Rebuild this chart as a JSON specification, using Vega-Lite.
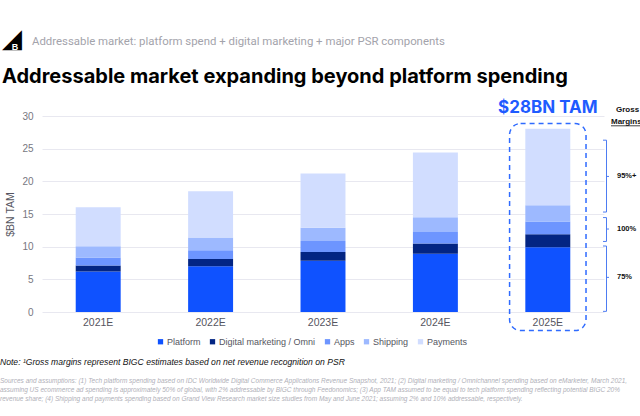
{
  "$schema": "https://vega.github.io/schema/vega-lite/v6.json",
  "width": 562,
  "height": 196,
  "autosize": {"type": "none"},
  "padding": {"left": 42, "top": 116, "right": 36, "bottom": 104},
  "background": "white",
  "config": {
    "view": {"stroke": null},
    "font": "Liberation Sans",
    "axisY": {"values": [0, 5, 10, 15, 20, 25, 30], "tickCount": 7, "domain": false, "ticks": false, "labelPadding": 9, "labelFontSize": 10, "labelColor": "#77777f", "gridColor": "#e8e8f0", "titleFontSize": 10.5, "titleFontWeight": "normal", "titleColor": "#555560", "titlePadding": 6},
    "axisX": {"labelAngle": 0, "domain": false, "ticks": false, "grid": false, "labelPadding": 5, "labelFontSize": 10.5, "labelColor": "#555560"}
  },
  "datasets": {
    "tam": [
      {"year": "2021E", "component": "Platform", "value": 6.2},
      {"year": "2021E", "component": "Digital marketing / Omni", "value": 0.9},
      {"year": "2021E", "component": "Apps", "value": 1.25},
      {"year": "2021E", "component": "Shipping", "value": 1.7},
      {"year": "2021E", "component": "Payments", "value": 6.0},
      {"year": "2022E", "component": "Platform", "value": 7.0},
      {"year": "2022E", "component": "Digital marketing / Omni", "value": 1.1},
      {"year": "2022E", "component": "Apps", "value": 1.35},
      {"year": "2022E", "component": "Shipping", "value": 1.95},
      {"year": "2022E", "component": "Payments", "value": 7.1},
      {"year": "2023E", "component": "Platform", "value": 7.85},
      {"year": "2023E", "component": "Digital marketing / Omni", "value": 1.35},
      {"year": "2023E", "component": "Apps", "value": 1.65},
      {"year": "2023E", "component": "Shipping", "value": 2.05},
      {"year": "2023E", "component": "Payments", "value": 8.3},
      {"year": "2024E", "component": "Platform", "value": 8.9},
      {"year": "2024E", "component": "Digital marketing / Omni", "value": 1.6},
      {"year": "2024E", "component": "Apps", "value": 1.75},
      {"year": "2024E", "component": "Shipping", "value": 2.25},
      {"year": "2024E", "component": "Payments", "value": 9.9},
      {"year": "2025E", "component": "Platform", "value": 9.9},
      {"year": "2025E", "component": "Digital marketing / Omni", "value": 2.0},
      {"year": "2025E", "component": "Apps", "value": 1.95},
      {"year": "2025E", "component": "Shipping", "value": 2.5},
      {"year": "2025E", "component": "Payments", "value": 11.7}
    ],
    "braces": [
      {"lo": 0.1, "mid": 5.3, "hi": 10.1, "label": "75%"},
      {"lo": 10.8, "mid": 12.7, "hi": 14.45, "label": "100%"},
      {"lo": 15.3, "mid": 20.75, "hi": 26.3, "label": "95%+"}
    ],
    "one": [{"label": "$28BN TAM"}],
    "header": [{"t": "Addressable market: platform spend + digital marketing + major PSR components"}],
    "headline": [{"t": "Addressable market expanding beyond platform spending"}],
    "note": [{"t": "Note: \u00b9Gross margins represent BIGC estimates based on net revenue recognition on PSR"}],
    "sources": [{"t": [
      "Sources and assumptions: (1) Tech platform spending based on IDC Worldwide Digital Commerce Applications Revenue Snapshot, 2021; (2) Digital marketing / Omnichannel spending based on eMarketer, March 2021,",
      "assuming US ecommerce ad spending is approximately 50% of global, with 2% addressable by BIGC through Feedonomics; (3) App TAM assumed to be equal to tech platform spending reflecting potential BIGC 20%",
      "revenue share; (4) Shipping and payments spending based on Grand View Research market size studies from May and June 2021; assuming 2% and 10% addressable, respectively."
    ]}]
  },
  "layer": [
    {
      "data": {"name": "tam"},
      "transform": [
        {"calculate": "indexof(['Platform','Digital marketing / Omni','Apps','Shipping','Payments'], datum.component)", "as": "stackRank"}
      ],
      "mark": {"type": "bar", "width": {"band": 0.4}},
      "encoding": {
        "x": {
          "field": "year", "type": "nominal", "title": null,
          "scale": {"paddingInner": 0, "paddingOuter": 0}
        },
        "y": {
          "field": "value", "type": "quantitative", "stack": "zero", "title": "$BN TAM",
          "scale": {"domain": [0, 30], "nice": false},
          "axis": {"values": [0, 5, 10, 15, 20, 25, 30], "tickCount": 7}
        },
        "order": {"field": "stackRank", "type": "quantitative", "sort": "ascending"},
        "color": {
          "field": "component", "type": "nominal",
          "scale": {"domain": ["Platform", "Digital marketing / Omni", "Apps", "Shipping", "Payments"], "range": ["#0f52ff", "#032583", "#6d95ff", "#9db9ff", "#d1ddff"]},
          "legend": {"title": null, "orient": "none", "legendX": 114, "legendY": 221, "direction": "horizontal", "symbolType": "square", "symbolSize": 28, "labelFontSize": 9, "labelColor": "#555560", "labelOffset": 2, "columnPadding": 7, "padding": 0}
        }
      }
    },
    {
      "data": {"name": "one"},
      "mark": {"type": "bar", "width": {"band": 0.68}, "fill": null, "fillOpacity": 0, "stroke": "#2f6bff", "strokeWidth": 1.5, "strokeDash": [5, 4], "cornerRadius": 11},
      "encoding": {
        "x": {"datum": "2025E"},
        "y": {"datum": 28.85},
        "y2": {"datum": -2.85}
      }
    },
    {
      "data": {"name": "one"},
      "mark": {"type": "text", "fontSize": 17, "fontWeight": "bold", "font": "Inter", "color": "#1f5bff", "baseline": "middle", "align": "center"},
      "encoding": {
        "x": {"datum": "2025E", "bandPosition": 0.5},
        "y": {"datum": 31.3},
        "text": {"field": "label"}
      }
    },
    {
      "data": {"name": "one"},
      "mark": {"type": "text", "fontSize": 8, "fontWeight": "bold", "color": "#111111", "baseline": "middle", "align": "left", "dx": 12},
      "encoding": {
        "x": {"datum": "2025E", "bandPosition": 1},
        "y": {"datum": 30.9},
        "text": {"value": "Gross"}
      }
    },
    {
      "data": {"name": "one"},
      "mark": {"type": "text", "fontSize": 8, "fontWeight": "bold", "color": "#111111", "baseline": "middle", "align": "left", "dx": 7},
      "encoding": {
        "x": {"datum": "2025E", "bandPosition": 1},
        "y": {"datum": 29.15},
        "text": {"value": "Margins"}
      }
    },
    {
      "data": {"name": "one"},
      "mark": {"type": "rule", "color": "#111111", "strokeWidth": 0.8, "xOffset": 7, "x2Offset": 40},
      "encoding": {
        "x": {"datum": "2025E", "bandPosition": 1},
        "x2": {"datum": "2025E", "bandPosition": 1},
        "y": {"datum": 28.5}
      }
    },
    {
      "data": {"name": "braces"},
      "mark": {"type": "rule", "color": "#4d7cf2", "strokeWidth": 1, "xOffset": 2.5},
      "encoding": {
        "x": {"datum": "2025E", "bandPosition": 1},
        "y": {"field": "lo", "type": "quantitative"},
        "y2": {"field": "hi"}
      }
    },
    {
      "data": {"name": "braces"},
      "mark": {"type": "rule", "color": "#4d7cf2", "strokeWidth": 1, "xOffset": -1, "x2Offset": 2.5},
      "encoding": {
        "x": {"datum": "2025E", "bandPosition": 1},
        "x2": {"datum": "2025E", "bandPosition": 1},
        "y": {"field": "lo", "type": "quantitative"}
      }
    },
    {
      "data": {"name": "braces"},
      "mark": {"type": "rule", "color": "#4d7cf2", "strokeWidth": 1, "xOffset": -1, "x2Offset": 2.5},
      "encoding": {
        "x": {"datum": "2025E", "bandPosition": 1},
        "x2": {"datum": "2025E", "bandPosition": 1},
        "y": {"field": "hi", "type": "quantitative"}
      }
    },
    {
      "data": {"name": "braces"},
      "mark": {"type": "rule", "color": "#4d7cf2", "strokeWidth": 1, "xOffset": 2.5, "x2Offset": 5},
      "encoding": {
        "x": {"datum": "2025E", "bandPosition": 1},
        "x2": {"datum": "2025E", "bandPosition": 1},
        "y": {"field": "mid", "type": "quantitative"}
      }
    },
    {
      "data": {"name": "braces"},
      "mark": {"type": "text", "fontSize": 7.5, "fontWeight": "bold", "color": "#111111", "align": "left", "baseline": "middle", "dx": 13},
      "encoding": {
        "x": {"datum": "2025E", "bandPosition": 1},
        "y": {"field": "mid", "type": "quantitative"},
        "text": {"field": "label"}
      }
    },
    {
      "data": {"name": "one"},
      "mark": {"type": "text", "font": "DejaVu Sans", "fontSize": 26, "color": "#000000", "align": "center", "baseline": "middle", "dx": -30},
      "encoding": {
        "x": {"datum": "2021E", "bandPosition": 0},
        "y": {"datum": 41.8},
        "text": {"value": "\u25e2"}
      }
    },
    {
      "data": {"name": "one"},
      "mark": {"type": "text", "font": "Liberation Sans", "fontSize": 9, "fontWeight": "bold", "color": "#ffffff", "align": "center", "baseline": "middle", "dx": -27},
      "encoding": {
        "x": {"datum": "2021E", "bandPosition": 0},
        "y": {"datum": 40.6},
        "text": {"value": "B"}
      }
    },
    {
      "data": {"name": "header"},
      "mark": {"type": "text", "font": "Roboto", "fontSize": 11.4, "color": "#a3a3ab", "align": "left", "baseline": "middle", "dx": -10},
      "encoding": {
        "x": {"datum": "2021E", "bandPosition": 0},
        "y": {"datum": 41.3},
        "text": {"field": "t"}
      }
    },
    {
      "data": {"name": "headline"},
      "mark": {"type": "text", "font": "Inter", "fontSize": 20, "fontWeight": "bold", "color": "#000000", "align": "left", "baseline": "alphabetic", "dx": -40},
      "encoding": {
        "x": {"datum": "2021E", "bandPosition": 0},
        "y": {"datum": 35.0},
        "text": {"field": "t"}
      }
    },
    {
      "data": {"name": "note"},
      "mark": {"type": "text", "font": "Liberation Sans", "fontSize": 8.6, "fontStyle": "italic", "color": "#111111", "align": "left", "baseline": "middle", "dx": -42},
      "encoding": {
        "x": {"datum": "2021E", "bandPosition": 0},
        "y": {"datum": -7.6},
        "text": {"field": "t"}
      }
    },
    {
      "data": {"name": "sources"},
      "mark": {"type": "text", "font": "Liberation Sans", "fontSize": 6.5, "fontStyle": "italic", "color": "#b0b0b8", "align": "left", "baseline": "alphabetic", "lineHeight": 9, "dx": -42},
      "encoding": {
        "x": {"datum": "2021E", "bandPosition": 0},
        "y": {"datum": -10.85},
        "text": {"field": "t"}
      }
    }
  ]
}
